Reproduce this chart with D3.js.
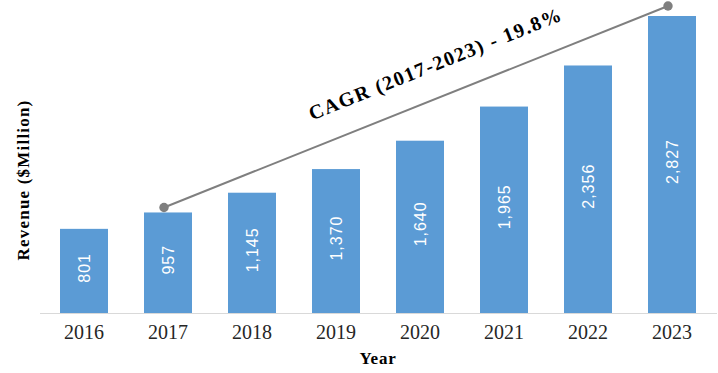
<!DOCTYPE html>
<html><head><meta charset="utf-8">
<script src="https://cdn.jsdelivr.net/npm/d3@7/dist/d3.min.js"></script>
<style>html,body{margin:0;padding:0;background:#fff;}svg{display:block;}</style>
</head><body>
<svg id="chart" width="718" height="373"></svg>
<script>
const years = ["2016","2017","2018","2019","2020","2021","2022","2023"];
const revenue = [801, 957, 1145, 1370, 1640, 1965, 2356, 2827];
const cagrYears = ["2017","2023"];
const cagrLabel = "CAGR (2017-2023) - 19.8%";
const xTitle = "Year";
const yTitle = "Revenue ($Million)";

const W = 718, H = 373;
const svg = d3.select("#chart");
svg.append("rect").attr("width", W).attr("height", H).attr("fill", "#fff");

const x = d3.scaleBand().domain(years).range([42, 714]).paddingInner(0.4286).paddingOuter(0.2143);
const y = d3.scaleLinear().domain([0, d3.max(revenue)]).range([313, 16]);

const data = years.map((yr, i) => ({year: yr, value: revenue[i]}));

// bars
svg.append("g").selectAll("rect").data(data).join("rect")
  .attr("x", d => x(d.year))
  .attr("y", d => y(d.value))
  .attr("width", x.bandwidth())
  .attr("height", d => y(0) - y(d.value))
  .attr("fill", "#5b9bd5");

// x axis
const xAxis = svg.append("g").attr("transform", `translate(0,${y(0)})`)
  .call(d3.axisBottom(x).tickSize(0).tickPadding(12));
xAxis.select(".domain").remove();
svg.append("line").attr("x1", 40).attr("x2", 717).attr("y1", y(0) + 0.5).attr("y2", y(0) + 0.5)
  .attr("stroke", "#d9d9d9").attr("stroke-width", 1);
xAxis.selectAll("text")
  .attr("font-family", "'Liberation Serif', serif")
  .attr("font-size", "20px")
  .attr("fill", "#262626");

// value labels
const fmt = d3.format(",");
svg.append("g").selectAll("text").data(data).join("text")
  .attr("transform", d => `translate(${x(d.year) + x.bandwidth()/2 + 6},${(y(d.value) + y(0))/2 - 3}) rotate(-90)`)
  .attr("text-anchor", "middle")
  .attr("font-family", "'Liberation Sans', Arial, sans-serif")
  .attr("font-size", "16px")
  .attr("letter-spacing", "1px")
  .attr("fill", "#fff")
  .text(d => fmt(d.value));

// CAGR line
const dotOffsets = [-5, -10];
const pts = cagrYears.map((yr, i) => {
  const v = revenue[years.indexOf(yr)];
  return [x(yr) + x.bandwidth()/2 - 4, y(v) + dotOffsets[i]];
});
svg.append("line")
  .attr("x1", pts[0][0]).attr("y1", pts[0][1])
  .attr("x2", pts[1][0]).attr("y2", pts[1][1])
  .attr("stroke", "#7f7f7f").attr("stroke-width", 2);
svg.append("g").selectAll("circle").data(pts).join("circle")
  .attr("cx", d => d[0]).attr("cy", d => d[1]).attr("r", 4.7)
  .attr("fill", "#7f7f7f");

const ang = Math.atan2(pts[1][1] - pts[0][1], pts[1][0] - pts[0][0]) * 180 / Math.PI;
svg.append("text")
  .attr("transform", `translate(438,70) rotate(${ang})`)
  .attr("text-anchor", "middle")
  .attr("font-family", "'Liberation Serif', serif")
  .attr("font-weight", "bold")
  .attr("font-size", "20px")
  .attr("letter-spacing", "1.5px")
  .attr("fill", "#000")
  .text(cagrLabel);

// axis titles
svg.append("text")
  .attr("x", 378).attr("y", 364)
  .attr("text-anchor", "middle")
  .attr("font-family", "'Liberation Serif', serif")
  .attr("font-weight", "bold")
  .attr("font-size", "17px")
  .attr("letter-spacing", "0.8px")
  .attr("fill", "#000")
  .text(xTitle);

svg.append("text")
  .attr("transform", "translate(29,180) rotate(-90)")
  .attr("text-anchor", "middle")
  .attr("font-family", "'Liberation Serif', serif")
  .attr("font-weight", "bold")
  .attr("font-size", "17px")
  .attr("letter-spacing", "1.2px")
  .attr("fill", "#000")
  .text(yTitle);
</script>
</body></html>
